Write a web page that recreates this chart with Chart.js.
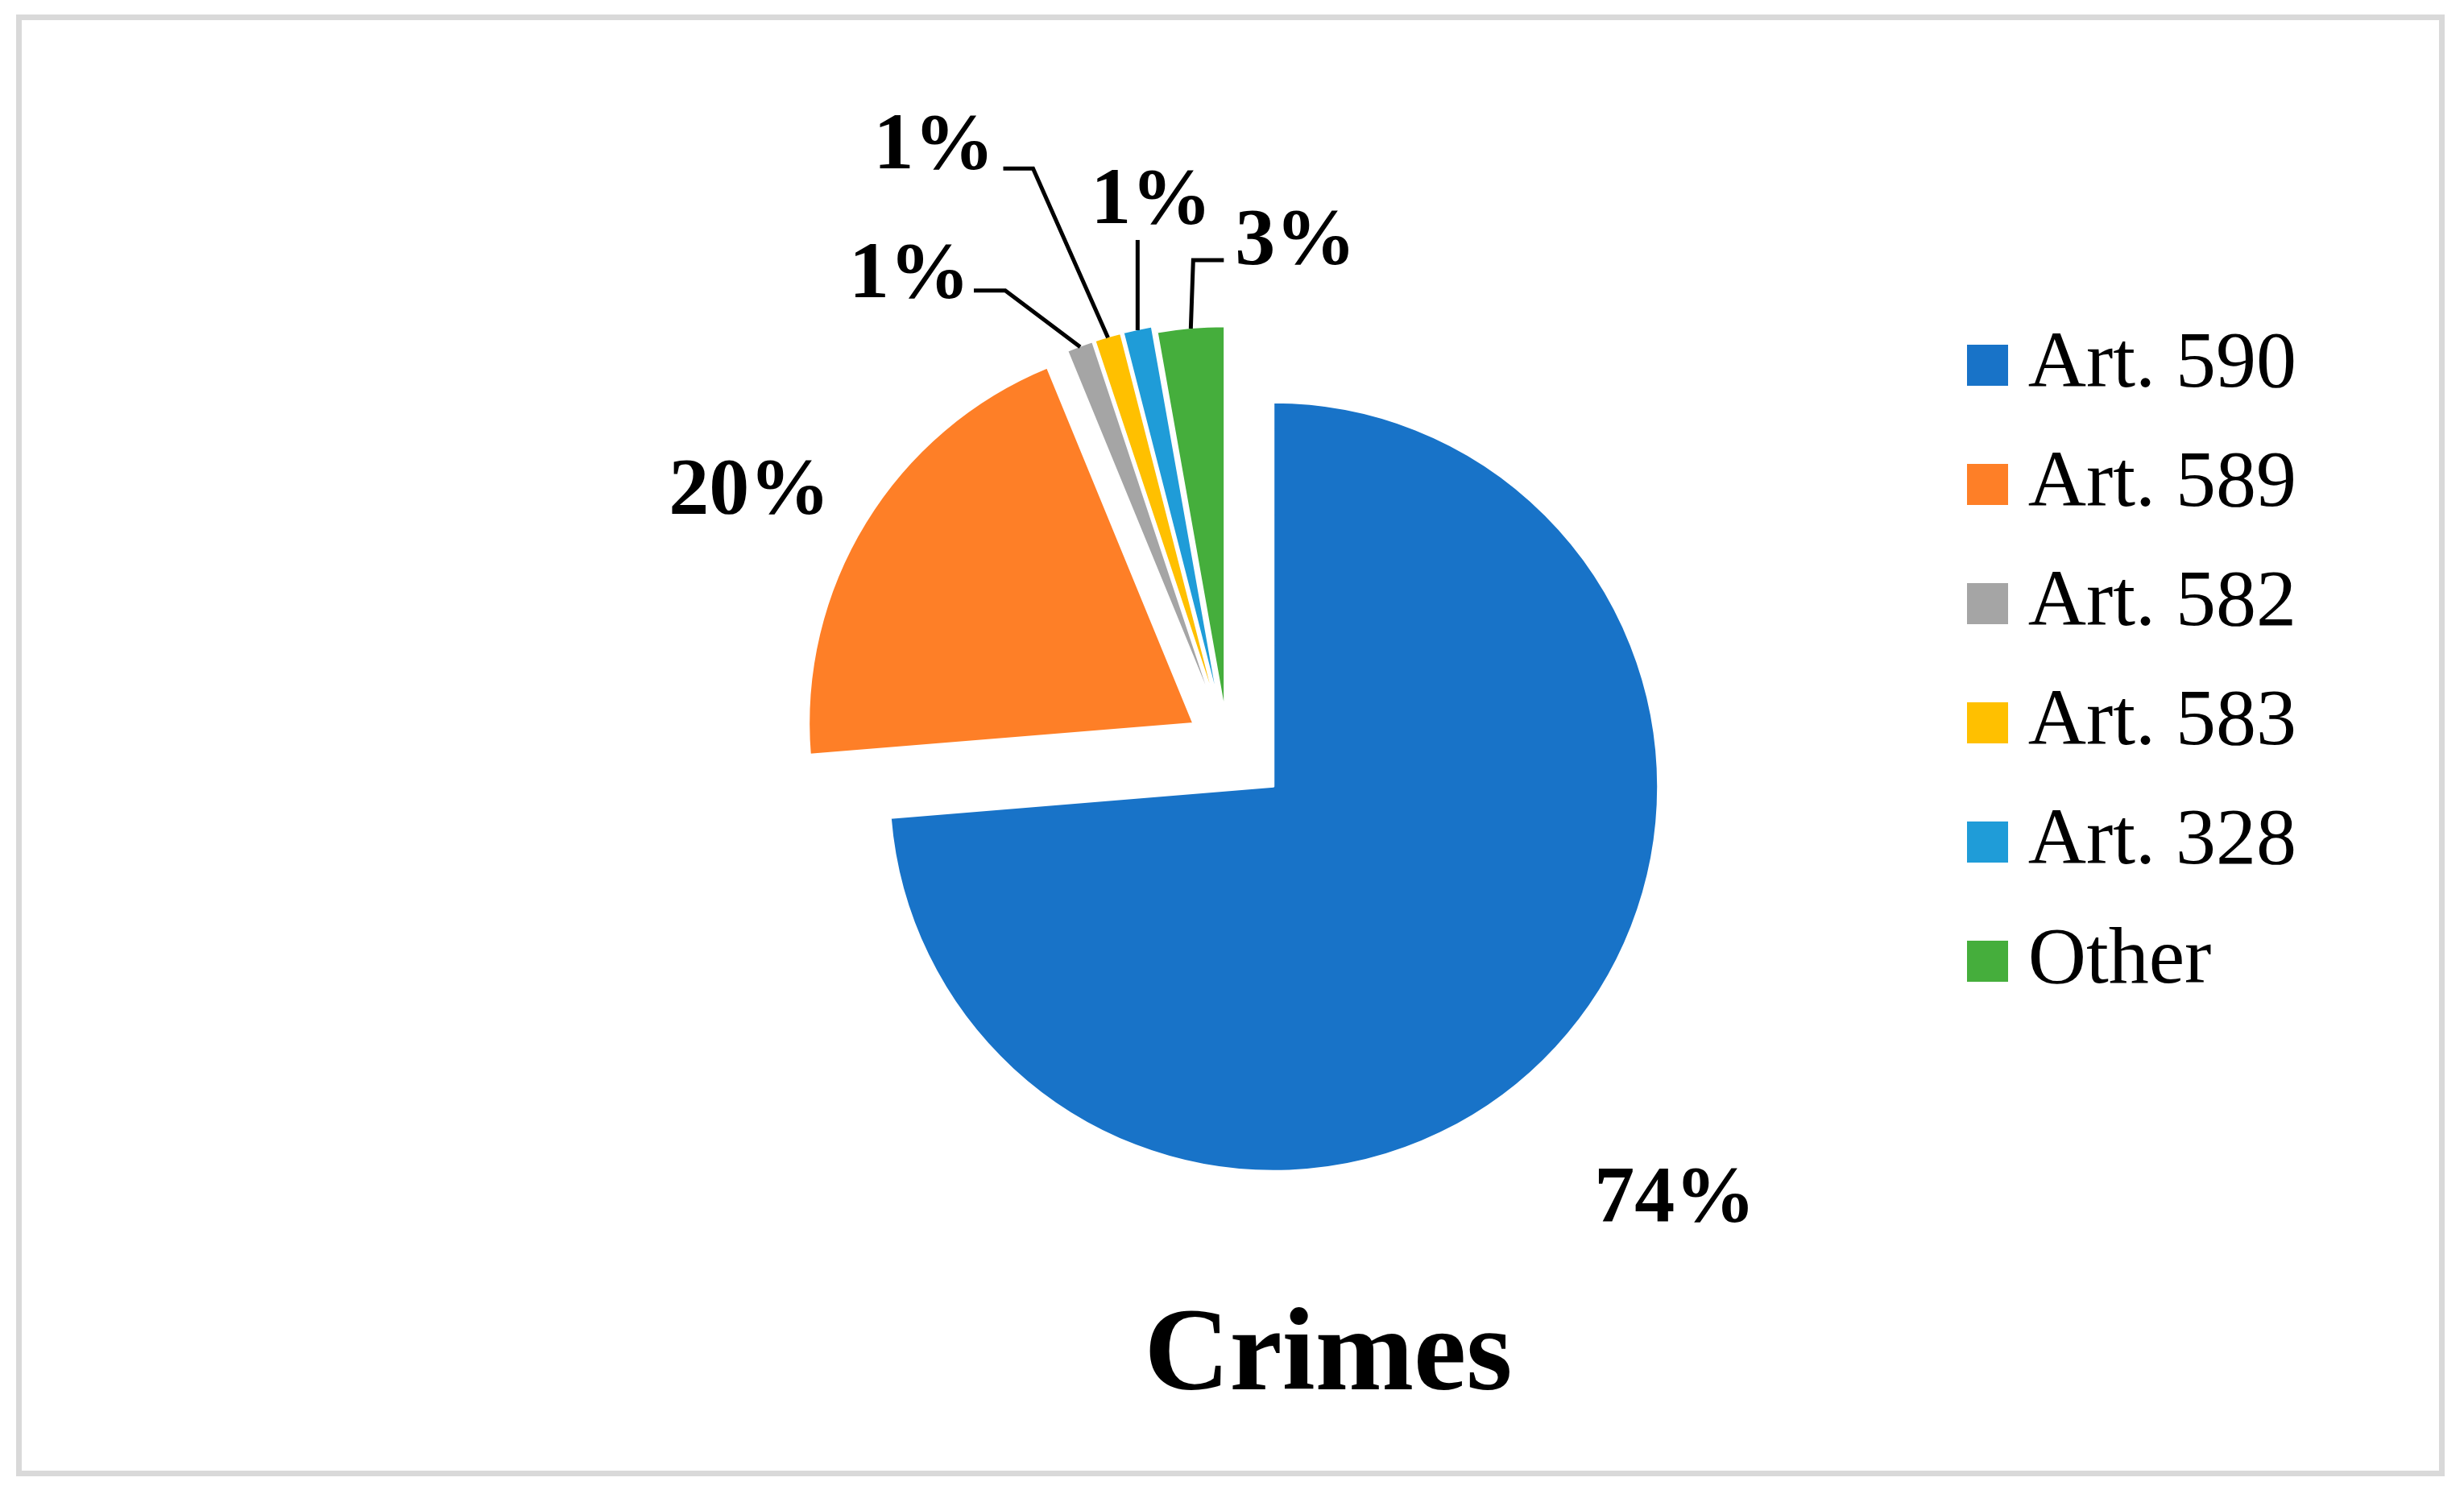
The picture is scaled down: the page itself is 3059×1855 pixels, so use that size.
<!DOCTYPE html>
<html>
<head>
<meta charset="utf-8">
<title>Crimes</title>
<script src="https://cdn.jsdelivr.net/npm/chart.js@4.4.1/dist/chart.umd.min.js"></script>
<style>
  html, body { margin: 0; padding: 0; background: #fff; }
  body { width: 3059px; height: 1855px; position: relative; overflow: hidden; }
  .frame {
    position: absolute; left: 20px; top: 18px; width: 3015px; height: 1815px;
    border: 7px solid #d9d9d9; box-sizing: border-box;
  }
  #crimesChart { position: absolute; left: 0; top: 0; }
</style>
</head>
<body>
<div class="frame"></div>
<canvas id="crimesChart" width="3059" height="1855"></canvas>
<script>
// Data
const categories = ['Art. 590', 'Art. 589', 'Art. 582', 'Art. 583', 'Art. 328', 'Other']
const shares = [73.7, 20.1, 1.1, 1.1, 1.2, 2.8]
const chartTitle = 'Crimes'

// Styles
const colors = ['#1873c8', '#fe7f27', '#a5a5a5', '#ffc000', '#1f9cd8', '#45ae3c']
const explode = [78, 50, 50, 50, 50, 42] // px each slice is pulled out
// label centre, relative to the outer middle of each slice
const labelOffsets = [[148, 191], [-145, -38], [-212, -88], [-216, -236], [17, -159], [130, -107]]
// leader line points, relative to the same spot
const leaders = [[], [], [[-93, -70], [-132, -70]], [[-93, -210], [-130, -210]], [[0, -112]], [[3, -85], [41, -85]]]

const serif = "'Liberation Serif', 'Times New Roman', serif"
const total = shares.reduce((a, b) => a + b, 0)

// little squares for the legend (drawn as point style so the gap to the text stays small)
const legendSquares = colors.map((c) => {
  const cv = document.createElement('canvas')
  cv.width = 51
  cv.height = 51
  const g = cv.getContext('2d')
  g.fillStyle = c
  g.fillRect(0, 0, 51, 51)
  return cv
})

const explodePlugin = {
  id: 'explode',
  beforeDatasetDraw(chart, args) {
    const ctx = chart.ctx
    args.meta.data.forEach((arc, i) => {
      const { startAngle, endAngle } = arc.getProps(['startAngle', 'endAngle'], true)
      const mid = (startAngle + endAngle) / 2
      ctx.save()
      ctx.translate(Math.cos(mid) * explode[i], Math.sin(mid) * explode[i])
      arc.draw(ctx)
      ctx.restore()
    })
    return false
  },
}

const labelPlugin = {
  id: 'sliceLabels',
  afterDatasetsDraw(chart) {
    const ctx = chart.ctx
    const meta = chart.getDatasetMeta(0)
    ctx.save()
    ctx.strokeStyle = '#000'
    ctx.lineWidth = 5
    ctx.lineJoin = 'miter'
    ctx.fillStyle = '#000'
    ctx.font = `bold 100px ${serif}`
    ctx.textAlign = 'center'
    ctx.textBaseline = 'middle'
    meta.data.forEach((arc, i) => {
      const { x, y, startAngle, endAngle, outerRadius } = arc.getProps(
        ['x', 'y', 'startAngle', 'endAngle', 'outerRadius'], true)
      const mid = (startAngle + endAngle) / 2
      const r = explode[i] + outerRadius - 1
      const ax = x + Math.cos(mid) * r
      const ay = y + Math.sin(mid) * r
      if (leaders[i].length) {
        ctx.beginPath()
        ctx.moveTo(ax, ay)
        leaders[i].forEach((p) => ctx.lineTo(ax + p[0], ay + p[1]))
        ctx.stroke()
      }
      const pct = Math.round((shares[i] / total) * 100) + '%'
      ctx.fillText(pct, ax + labelOffsets[i][0], ay + labelOffsets[i][1])
    })
    ctx.restore()
  },
}

// title sits under the pie, a bit right of its centre
const titlePlugin = {
  id: 'bottomTitle',
  afterDraw(chart) {
    const ctx = chart.ctx
    ctx.save()
    ctx.fillStyle = '#000'
    ctx.font = `bold 147px ${serif}`
    ctx.textAlign = 'center'
    ctx.textBaseline = 'alphabetic'
    ctx.fillText(chartTitle, 1649, 1725)
    ctx.restore()
  },
}

const ctx = document.getElementById('crimesChart').getContext('2d')
const crimesChart = new Chart(ctx, {
  type: 'pie',
  data: {
    labels: categories,
    datasets: [
      {
        data: shares,
        backgroundColor: colors,
        borderColor: '#ffffff',
        borderWidth: 2,
        radius: 477,
      },
    ],
  },
  options: {
    responsive: false,
    animation: false,
    events: [],
    layout: {
      padding: { left: 629, right: 198, top: 355.5, bottom: 362.5 },
    },
    plugins: {
      tooltip: { enabled: false },
      legend: {
        position: 'right',
        align: 'start',
        labels: {
          color: '#000',
          font: { family: serif, size: 100 },
          padding: 48,
          usePointStyle: true,
          pointStyleWidth: 1,
          boxHeight: 51,
          generateLabels: () =>
            categories.map((label, i) => ({
              text: label,
              fillStyle: colors[i],
              strokeStyle: colors[i],
              lineWidth: 0,
              pointStyle: legendSquares[i],
              fontColor: '#000',
              hidden: false,
              index: i,
            })),
        },
      },
    },
  },
  plugins: [explodePlugin, labelPlugin, titlePlugin],
})
</script>
</body>
</html>
